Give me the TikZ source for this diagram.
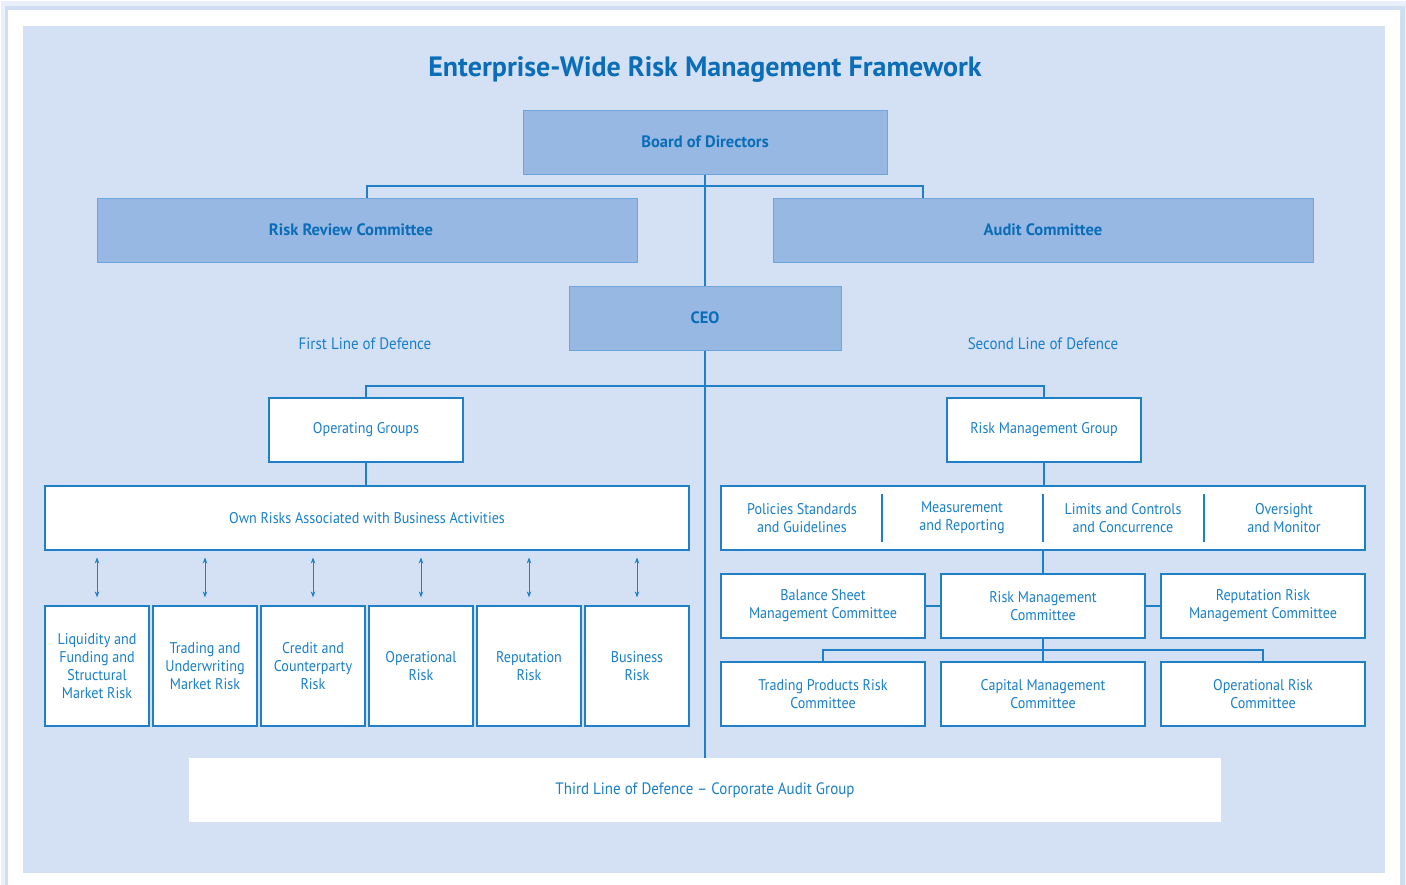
\documentclass[tikz,border=0pt]{standalone}
\usepackage{fontspec}
\setmainfont{PT Sans}[FakeStretch=0.91]
\newfontfamily\headfont{PT Sans}[FakeStretch=1.0]
\usetikzlibrary{arrows.meta,positioning,calc}
\definecolor{panel}{HTML}{D4E1F4}
\definecolor{boxdark}{HTML}{96B8E2}
\definecolor{boxedge}{HTML}{6EA6DC}
\definecolor{ink}{HTML}{1A7FC6}
\definecolor{titleink}{HTML}{0B6DB8}
\definecolor{wire}{HTML}{1F80C8}
\definecolor{shade}{HTML}{A9C3EA}

\begin{document}
\begin{tikzpicture}[
  x=1pt, y=-1pt,
  font=\fontsize{15.5}{18}\selectfont,
  topbox/.style={draw=boxedge, fill=boxdark, line width=1pt, minimum height=64pt, inner sep=0pt, text=titleink, font=\headfont\fontsize{16.5}{19}\selectfont\bfseries},
  wbox/.style={draw=wire, fill=white, line width=1.2pt, minimum height=64pt, minimum width=204pt, inner sep=0pt, align=center, text=ink},
  riskbox/.style={wbox, minimum width=104pt, minimum height=120pt},
  celltext/.style={align=center, text=ink, inner sep=0pt},
  label/.style={text=ink, inner sep=0pt, font=\fontsize{16.5}{19}\selectfont},
  link/.style={draw=wire, line width=1.2pt},
  dblarr/.style={{Stealth[length=6pt,width=4.5pt]}-{Stealth[length=6pt,width=4.5pt]}, draw=wire, line width=1pt}
]
  \useasboundingbox (0,0) rectangle (1406,884);
  % card and panel
  \fill[white] (0,0) rectangle (1406,884);
  \fill[shade!25!white] (1,1) rectangle (1406,890);
  \fill[shade!55!white] (5,6) rectangle (1405,890);
  \fill[white] (8,10) rectangle (1400,890);
  \fill[panel] (23,26) rectangle (1385,873);

  \node[text=titleink, font=\headfont\fontsize{28}{32}\selectfont\bfseries] (title) at (705,70) {Enterprise-Wide Risk Management Framework};

  % governance
  \node[topbox, minimum width=364pt] (board) at (705,142) {Board of Directors};
  \node[topbox, minimum width=540pt] (rrc) at (367,230) {Risk Review Committee\hspace*{32pt}};
  \node[topbox, minimum width=540pt] (audit) at (1043,230) {Audit Committee};
  \node[topbox, minimum width=272pt] (ceo) at (705,318) {CEO};

  \node[label] (first) at (365,344) {First Line of Defence};
  \node[label] (second) at (1043,344) {Second Line of Defence};

  % first line
  \node[wbox, minimum width=194pt] (opg) at (366,430) {Operating Groups};
  \node[wbox, minimum width=644pt] (own) at (367,518) {Own Risks Associated with Business Activities};
  \node[riskbox] (liq) at (97,666) {Liquidity and\\Funding and\\Structural\\Market Risk};
  \node[riskbox] (trd) at (205,666) {Trading and\\Underwriting\\Market Risk};
  \node[riskbox] (crd) at (313,666) {Credit and\\Counterparty\\Risk};
  \node[riskbox] (opr) at (421,666) {Operational\\Risk};
  \node[riskbox] (rep) at (529,666) {Reputation\\Risk};
  \node[riskbox] (bus) at (637,666) {Business\\Risk};

  % second line
  \node[wbox, minimum width=194pt] (rmg) at (1044,430) {Risk Management Group};
  \node[wbox, minimum width=644pt] (pol) at (1043,518) {};
  \node[celltext] (pol1) at (802,518) {Policies Standards\\and Guidelines};
  \node[celltext] (pol2) at (962,518) {Measurement\\and Reporting};
  \node[celltext] (pol3) at (1123,518) {Limits and Controls\\and Concurrence};
  \node[celltext] (pol4) at (1284,518) {Oversight\\and Monitor};
  \draw[link] (882,494) -- (882,542);
  \draw[link] (1043,494) -- (1043,542);
  \draw[link] (1204,494) -- (1204,542);

  \node[wbox] (bsm) at (823,606) {Balance Sheet\\Management Committee};
  \node[wbox] (rmc) at (1043,606) {Risk Management\\Committee};
  \node[wbox] (rrm) at (1263,606) {Reputation Risk\\Management Committee};
  \node[wbox] (tpr) at (823,694) {Trading Products Risk\\Committee};
  \node[wbox] (cap) at (1043,694) {Capital Management\\Committee};
  \node[wbox] (orc) at (1263,694) {Operational Risk\\Committee};

  % third line
  \node[fill=white, minimum width=1032pt, minimum height=64pt, inner sep=0pt, text=ink, font=\fontsize{16.5}{19}\selectfont] (third) at (705,790) {Third Line of Defence -- Corporate Audit Group};

  % connectors
  \coordinate (govbus) at (705,186);
  \coordinate (linebus) at (705,386);
  \coordinate (combus) at (1043,650);
  \draw[link] (board.south) -- (ceo.north);
  \draw[link] (rrc.north) |- (govbus) -| ([xshift=-120pt]audit.north);
  \draw[link] (ceo.south) -- (third.north);
  \draw[link] (opg.north) |- (linebus) -| (rmg.north);
  \draw[link] (opg.south) -- (opg.south |- own.north);
  \draw[link] (rmg.south) -- (rmg.south |- pol.north);
  \draw[link] (pol.south) -- (rmc.north);
  \draw[link] (bsm.east) -- (rmc.west);
  \draw[link] (rmc.east) -- (rrm.west);
  \draw[link] (rmc.south) -- (cap.north);
  \draw[link] (tpr.north) |- (combus) -| (orc.north);

  \draw[dblarr] ($(liq.north)+(0,-8)$) -- ($(liq.north)+(0,-48)$);
  \draw[dblarr] ($(trd.north)+(0,-8)$) -- ($(trd.north)+(0,-48)$);
  \draw[dblarr] ($(crd.north)+(0,-8)$) -- ($(crd.north)+(0,-48)$);
  \draw[dblarr] ($(opr.north)+(0,-8)$) -- ($(opr.north)+(0,-48)$);
  \draw[dblarr] ($(rep.north)+(0,-8)$) -- ($(rep.north)+(0,-48)$);
  \draw[dblarr] ($(bus.north)+(0,-8)$) -- ($(bus.north)+(0,-48)$);
\end{tikzpicture}
\end{document}
